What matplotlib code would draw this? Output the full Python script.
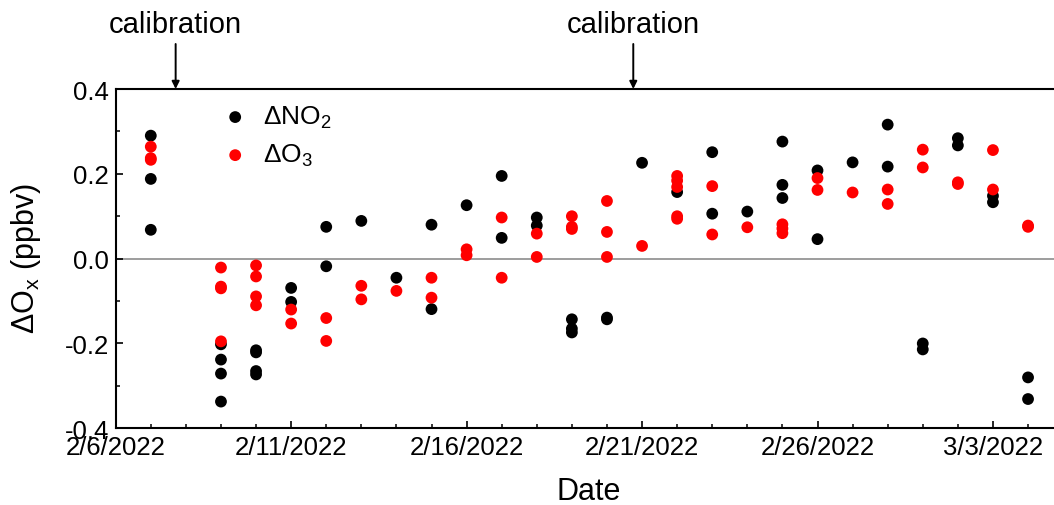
import matplotlib
matplotlib.use("Agg")
import matplotlib.pyplot as plt
import matplotlib.dates as mdates
import matplotlib.transforms as mtransforms
import numpy as np
import pandas as pd

plt.rcParams['font.family'] = ['Liberation Sans', 'DejaVu Sans']
plt.rcParams['mathtext.fontset'] = 'custom'
plt.rcParams['mathtext.rm'] = 'Liberation Sans'
plt.rcParams['mathtext.it'] = 'Liberation Sans'

# ---- data ----
no2_dates = (['2022-02-07'] * 3 + ['2022-02-09'] * 4 + ['2022-02-10'] * 4 +
             ['2022-02-11'] * 2 + ['2022-02-12'] * 2 + ['2022-02-13'] +
             ['2022-02-14'] + ['2022-02-15'] * 2 + ['2022-02-16'] +
             ['2022-02-17'] * 2 + ['2022-02-18'] * 2 + ['2022-02-19'] * 3 +
             ['2022-02-20'] * 2 + ['2022-02-21'] + ['2022-02-22'] +
             ['2022-02-23'] * 2 + ['2022-02-24'] + ['2022-02-25'] * 3 +
             ['2022-02-26'] * 2 + ['2022-02-27'] + ['2022-02-28'] * 2 +
             ['2022-03-01'] * 2 + ['2022-03-02'] * 2 + ['2022-03-03'] * 2 +
             ['2022-03-04'] * 2)
no2_values = [0.290, 0.188, 0.068,
              -0.202, -0.238, -0.271, -0.337,
              -0.216, -0.221, -0.265, -0.273,
              -0.069, -0.102,
              0.075, -0.018,
              0.089,
              -0.045,
              0.080, -0.119,
              0.126,
              0.195, 0.049,
              0.097, 0.078,
              -0.143, -0.165, -0.174,
              -0.139, -0.143,
              0.226,
              0.157,
              0.251, 0.106,
              0.111,
              0.276, 0.174, 0.143,
              0.208, 0.046,
              0.227,
              0.316, 0.217,
              -0.200, -0.214,
              0.284, 0.267,
              0.148, 0.133,
              -0.280, -0.331]

o3_dates = (['2022-02-07'] * 3 + ['2022-02-09'] * 4 + ['2022-02-10'] * 4 +
            ['2022-02-11'] * 2 + ['2022-02-12'] * 2 + ['2022-02-13'] * 2 +
            ['2022-02-14'] + ['2022-02-15'] * 2 + ['2022-02-16'] * 2 +
            ['2022-02-17'] * 2 + ['2022-02-18'] * 2 + ['2022-02-19'] * 3 +
            ['2022-02-20'] * 3 + ['2022-02-21'] + ['2022-02-22'] * 5 +
            ['2022-02-23'] * 2 + ['2022-02-24'] + ['2022-02-25'] * 3 +
            ['2022-02-26'] * 2 + ['2022-02-27'] + ['2022-02-28'] * 2 +
            ['2022-03-01'] * 2 + ['2022-03-02'] * 2 + ['2022-03-03'] * 2 +
            ['2022-03-04'] * 2)
o3_values = [0.264, 0.237, 0.233,
             -0.021, -0.066, -0.070, -0.195,
             -0.016, -0.042, -0.089, -0.110,
             -0.120, -0.153,
             -0.140, -0.194,
             -0.064, -0.096,
             -0.076,
             -0.045, -0.092,
             0.022, 0.008,
             0.097, -0.045,
             0.059, 0.004,
             0.100, 0.075, 0.070,
             0.136, 0.063, 0.004,
             0.030,
             0.195, 0.184, 0.169, 0.100, 0.094,
             0.171, 0.057,
             0.074,
             0.081, 0.071, 0.060,
             0.190, 0.162,
             0.156,
             0.163, 0.129,
             0.257, 0.215,
             0.180, 0.176,
             0.256, 0.163,
             0.078, 0.075]

tick_dates = ['2022-02-06', '2022-02-11', '2022-02-16', '2022-02-21', '2022-02-26', '2022-03-03']
tick_labels = ['2/6/2022', '2/11/2022', '2/16/2022', '2/21/2022', '2/26/2022', '3/3/2022']
calibration_times = ['2022-02-07 17:00', '2022-02-20 18:00']

# ---- figure ----
W, H = 1054, 506
fig = plt.figure(figsize=(W / 100, H / 100), dpi=100)
ax_l, ax_r, ax_t, ax_b = 115.7, 1054, 90, 429.3
ax = fig.add_axes([ax_l / W, 1 - ax_b / H, (ax_r - ax_l) / W, (ax_b - ax_t) / H])

x_no2 = mdates.date2num(pd.to_datetime(no2_dates))
x_o3 = mdates.date2num(pd.to_datetime(o3_dates))

ax.axhline(0, color='#8c8c8c', lw=1.2, zorder=1)
ax.scatter(x_no2, no2_values, s=72, color='black', edgecolors='none', zorder=3, label='ΔNO$_2$')
ax.scatter(x_o3, o3_values, s=72, color='#ff0000', edgecolors='none', zorder=4, label='ΔO$_3$')

x0 = mdates.date2num(pd.Timestamp('2022-02-06'))
px_per_day = 35.09
ax.set_xlim(x0, x0 + (ax_r - ax_l) / px_per_day)
ax.set_ylim(-0.4, 0.4)

ax.xaxis.set_major_locator(matplotlib.ticker.FixedLocator(mdates.date2num(pd.to_datetime(tick_dates))))
ax.xaxis.set_major_formatter(matplotlib.ticker.FixedFormatter(tick_labels))
ax.xaxis.set_minor_locator(mdates.DayLocator())
ax.set_yticks([-0.4, -0.2, 0.0, 0.2, 0.4])
ax.set_yticklabels(['-0.4', '-0.2', '0.0', '0.2', '0.4'])
ax.yaxis.set_minor_locator(matplotlib.ticker.MultipleLocator(0.1))

ax.tick_params(axis='both', which='major', direction='in', length=5, width=1.2, labelsize=18.5, pad=5)
ax.tick_params(axis='both', which='minor', direction='in', length=2.8, width=1.1)
ax.tick_params(axis='x', which='both', top=False)
ax.tick_params(axis='y', which='both', right=False)

for side in ['left', 'bottom', 'top']:
    ax.spines[side].set_linewidth(1.5)
ax.spines['right'].set_visible(False)

ax.set_xlabel('Date', fontsize=22)
ax.xaxis.set_label_coords((589 - ax_l) / (ax_r - ax_l), (ax_b - 477) / (ax_b - ax_t))
ax.set_ylabel('ΔO$_x$ (ppbv)', fontsize=22)
ax.yaxis.set_label_coords((43 - ax_l) / (ax_r - ax_l), (ax_b - 258) / (ax_b - ax_t))

leg = ax.legend(loc='upper left', bbox_to_anchor=((222 - ax_l) / (ax_r - ax_l), 1 - (105 - ax_t) / (ax_b - ax_t)),
                frameon=False, fontsize=19, handlelength=1.0, handletextpad=0.55, labelspacing=0.45,
                borderaxespad=0, borderpad=0, markerscale=1.0)

# calibration markers
trans = mtransforms.blended_transform_factory(ax.transData, fig.transFigure)
for t in calibration_times:
    xc = mdates.date2num(pd.Timestamp(t))
    ax.annotate('', xy=(xc, 1.0), xycoords=('data', 'axes fraction'),
                xytext=(xc, 1 - 45 / H), textcoords=trans,
                arrowprops=dict(arrowstyle='-|>', lw=1.4, color='black', mutation_scale=11,
                                shrinkA=0, shrinkB=0), annotation_clip=False)
    fig.text(xc, 1 - 33 / H, 'calibration', transform=trans, ha='center', va='baseline', fontsize=21)

fig.savefig('out.png', dpi=100)
